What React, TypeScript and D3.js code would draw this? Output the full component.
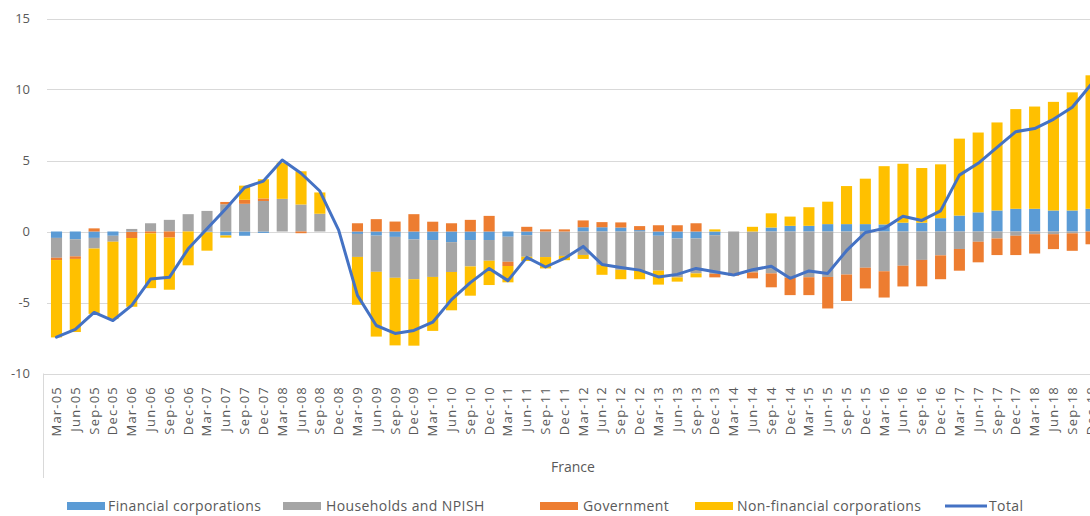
import React from "react";
import * as d3 from "d3";

const quarters = [
  "Mar-05","Jun-05","Sep-05","Dec-05","Mar-06","Jun-06","Sep-06","Dec-06",
  "Mar-07","Jun-07","Sep-07","Dec-07","Mar-08","Jun-08","Sep-08","Dec-08",
  "Mar-09","Jun-09","Sep-09","Dec-09","Mar-10","Jun-10","Sep-10","Dec-10",
  "Mar-11","Jun-11","Sep-11","Dec-11","Mar-12","Jun-12","Sep-12","Dec-12",
  "Mar-13","Jun-13","Sep-13","Dec-13","Mar-14","Jun-14","Sep-14","Dec-14",
  "Mar-15","Jun-15","Sep-15","Dec-15","Mar-16","Jun-16","Sep-16","Dec-16",
  "Mar-17","Jun-17","Sep-17","Dec-17","Mar-18","Jun-18","Sep-18","Dec-18",
];

const financialCorporations = [
  -0.45,-0.55,-0.45,-0.3,-0.03,0,0,0,
  -0.05,-0.28,-0.3,-0.1,0,0,0,0,
  -0.17,-0.29,-0.38,-0.56,-0.6,-0.75,-0.6,-0.6,
  -0.37,-0.26,0,0,0.3,0.3,0.28,0.1,
  -0.3,-0.49,-0.49,-0.26,0,0,0.28,0.4,
  0.4,0.52,0.52,0.52,0.5,0.62,0.62,0.94,
  1.12,1.35,1.48,1.6,1.6,1.48,1.48,1.6,
];

const households = [
  -1.4,-1.2,-0.75,-0.42,0.18,0.58,0.82,1.22,
  1.45,1.92,1.95,2.15,2.3,1.9,1.25,0,
  -1.62,-2.55,-2.88,-2.8,-2.6,-2.1,-1.86,-1.46,
  -1.76,-1.52,-1.8,-1.72,-1.65,-2.35,-2.7,-2.72,
  -2.46,-2.74,-2.46,-2.72,-2.95,-2.88,-2.95,-3.25,
  -3.22,-3.2,-3.03,-2.55,-2.8,-2.41,-2.0,-1.68,
  -1.23,-0.72,-0.49,-0.3,-0.19,-0.19,-0.13,0,
];

const government = [
  -0.16,-0.18,0.22,0,-0.43,-0.13,-0.43,0,
  0,0.16,0.28,0.18,0,-0.12,0,0,
  0.58,0.87,0.7,1.22,0.69,0.58,0.82,1.1,
  -0.3,0.33,0.15,0.15,0.48,0.36,0.36,0.28,
  0.44,0.44,0.58,-0.25,-0.16,-0.42,-0.98,-1.23,
  -1.26,-2.22,-1.86,-1.46,-1.85,-1.46,-1.86,-1.68,
  -1.53,-1.45,-1.17,-1.36,-1.36,-1.05,-1.23,-0.9,
];

const nonFinancialCorporations = [
  -5.45,-5.15,-4.6,-5.45,-4.84,-3.86,-3.67,-2.38,
  -1.3,-0.15,1.0,1.35,2.55,2.34,1.5,0,
  -3.37,-4.56,-4.76,-4.68,-3.8,-2.7,-2.06,-1.71,
  -1.15,-0.3,-0.8,-0.3,-0.28,-0.7,-0.66,-0.64,
  -0.98,-0.3,-0.28,0.15,0,0.33,1.0,0.65,
  1.31,1.58,2.68,3.2,4.1,4.15,3.85,3.79,
  5.42,5.62,6.2,7.02,7.2,7.65,8.32,9.4,
];

const total = [
  -7.44,-6.9,-5.7,-6.27,-5.2,-3.35,-3.23,-1.22,
  0.2,1.6,3.1,3.55,5.03,4.1,2.85,0.1,
  -4.5,-6.62,-7.18,-6.97,-6.39,-4.8,-3.6,-2.6,
  -3.46,-1.82,-2.5,-1.9,-1.05,-2.32,-2.53,-2.72,
  -3.2,-3.02,-2.6,-2.83,-3.06,-2.69,-2.45,-3.3,
  -2.78,-2.95,-1.35,-0.07,0.22,1.07,0.78,1.45,
  3.97,4.8,5.93,7.03,7.25,7.9,8.75,10.35,
];

const yTicks = [-10, -5, 0, 5, 10, 15];
const seriesKeys = ["fc", "hh", "gov", "nfc"];
const seriesNames = ["Financial corporations", "Households and NPISH", "Government", "Non-financial corporations"];
const seriesColors = ["#5B9BD5", "#A5A5A5", "#ED7D31", "#FFC000"];
const totalName = "Total";
const totalColor = "#4472C4";
const groupLabel = "France";

const W = 1090;
const H = 516;
const FONT = "'Open Sans', 'Liberation Sans', sans-serif";

export default function App() {
  const rows = quarters.map((q, i) => ({
    q,
    fc: financialCorporations[i],
    hh: households[i],
    gov: government[i],
    nfc: nonFinancialCorporations[i],
  }));

  const x = d3
    .scaleBand<string>()
    .domain(quarters)
    .range([47.1, 47.1 + 56 * 18.81])
    .paddingInner(0.41)
    .paddingOuter(0.205);

  const y = d3.scaleLinear().domain([-10, 15]).range([373.5, 18.5]);

  const stacked = d3
    .stack<any>()
    .keys(seriesKeys)
    .offset(d3.stackOffsetDiverging)(rows);

  const line = d3
    .line<number>()
    .x((_, i) => (x(quarters[i]) as number) + x.bandwidth() / 2)
    .y((d) => y(d));

  const legendItems = [
    { name: seriesNames[0], color: seriesColors[0], sx: 67, tx: 108 },
    { name: seriesNames[1], color: seriesColors[1], sx: 283, tx: 326 },
    { name: seriesNames[2], color: seriesColors[2], sx: 540, tx: 583 },
    { name: seriesNames[3], color: seriesColors[3], sx: 695, tx: 737 },
  ];

  return (
    <svg
      width={W}
      height={H}
      style={{ position: "absolute", left: 0, top: 0, background: "#fff" }}
      fontFamily={FONT}
    >
      {yTicks.map((t) => (
        <g key={t}>
          <line
            x1={t === -10 ? 43.5 : 47}
            x2={W}
            y1={Math.round(y(t)) + 0.5}
            y2={Math.round(y(t)) + 0.5}
            stroke="#D9D9D9"
            strokeWidth={1}
          />
          <text
            x={30}
            y={y(t)}
            dy="0.35em"
            textAnchor="end"
            fontSize={13}
            fill="#595959"
          >
            {t}
          </text>
        </g>
      ))}
      <line x1={43.5} x2={43.5} y1={y(-10)} y2={478} stroke="#D9D9D9" />

      {stacked.map((s, si) => (
        <g key={s.key} fill={seriesColors[si]}>
          {s.map((d, i) => {
            const y0 = y(d[0]);
            const y1 = y(d[1]);
            const h = Math.abs(y0 - y1);
            if (h < 0.01) return null;
            return (
              <rect
                key={i}
                x={x(quarters[i])}
                width={x.bandwidth()}
                y={Math.min(y0, y1)}
                height={h}
              />
            );
          })}
        </g>
      ))}

      <path
        d={line(total) || ""}
        fill="none"
        stroke={totalColor}
        strokeWidth={3}
        strokeLinejoin="round"
        strokeLinecap="round"
      />

      {quarters.map((q) => {
        const cx = (x(q) as number) + x.bandwidth() / 2;
        return (
          <text
            key={q}
            transform={`translate(${cx + 4.5},386) rotate(-90)`}
            textAnchor="end"
            fontSize={13}
            fill="#595959"
            letterSpacing={1.2}
          >
            {q}
          </text>
        );
      })}

      <text x={573} y={472} textAnchor="middle" fontSize={14} fill="#595959">
        {groupLabel}
      </text>

      {legendItems.map((it) => (
        <g key={it.name}>
          <rect x={it.sx} y={502} width={38} height={8} fill={it.color} />
          <text x={it.tx} y={511} fontSize={14} letterSpacing={0.4} fill="#595959">
            {it.name}
          </text>
        </g>
      ))}
      <line x1={945} x2={987} y1={506} y2={506} stroke={totalColor} strokeWidth={3} />
      <text x={989} y={511} fontSize={14} letterSpacing={0.4} fill="#595959">
        {totalName}
      </text>
    </svg>
  );
}
